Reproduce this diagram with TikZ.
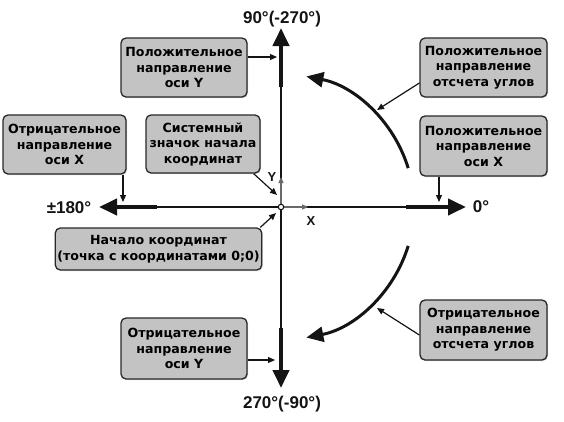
\documentclass[tikz,border=0pt]{standalone}
\usepackage{fontspec}
\setmainfont{DejaVu Sans}
\newfontfamily\labfont{Liberation Sans}
\usetikzlibrary{arrows.meta,shadows}
\definecolor{boxfill}{RGB}{195,195,195}
\definecolor{boxline}{RGB}{40,40,40}
\definecolor{axisc}{RGB}{20,20,20}
\definecolor{smallc}{RGB}{105,105,105}
\tikzset{
  infobox/.style={draw=boxline, line width=1.3pt, fill=boxfill, rounded corners=5pt,
    align=center, inner sep=2pt, font=\bfseries\fontsize{12.6}{15.5}\selectfont,
    drop shadow={opacity=0.35, shadow xshift=1pt, shadow yshift=-1pt}},
  conn/.style={draw=axisc, line width=1.2pt, -{Triangle[length=7pt,width=6pt]}},
  axthin/.style={draw=axisc, line width=1.6pt},
  axthick/.style={draw=axisc, line width=4pt, -{Triangle[length=18pt,width=16pt]}},
  arcline/.style={draw=axisc, line width=3pt, -{Triangle[length=17pt,width=15pt]}},
  smallarr/.style={draw=smallc, line width=1.1pt, -{Triangle[length=6pt,width=5pt]}},
  biglabel/.style={font=\labfont\bfseries\fontsize{17}{20}\selectfont, text=axisc},
  smalllabel/.style={font=\labfont\bfseries\fontsize{13}{15}\selectfont, text=axisc},
}
\begin{document}
\begin{tikzpicture}[x=1pt,y=1pt]
\useasboundingbox (0,0) rectangle (564,-421);
% key coordinates
\coordinate (O) at (281,-207);
\coordinate (tipT) at (281,-28);
\coordinate (tipB) at (281,-388);
\coordinate (tipL) at (99,-207);
\coordinate (tipR) at (466,-207);
\coordinate (thT) at (281,-87);
\coordinate (thB) at (281,-328);
\coordinate (thL) at (157,-207);
\coordinate (thR) at (406,-207);
\coordinate (sY) at (281,-177);
\coordinate (sX) at (308,-207);
% axes
\draw[axthin] (thL) -- (thR);
\draw[axthin] (thT) -- (thB);
\draw[axthick] (thT) -- (tipT);
\draw[axthick] (thB) -- (tipB);
\draw[axthick] (thL) -- (tipL);
\draw[axthick] (thR) -- (tipR);
% small system icon
\draw[smallarr] (O) -- (sY);
\draw[smallarr] (O) -- (sX);
\node[smalllabel] (lY) at (272,-177) {Y};
\node[smalllabel] (lX) at (311,-221) {X};
\node[circle, draw=axisc, fill=white, line width=1.1pt, minimum size=5.5pt, inner sep=0pt] (Oc) at (O) {};
% arcs
\draw[arcline] (O) ++(17:133) arc[start angle=17, end angle=79, radius=133];
\draw[arcline] (O) ++(-17:133) arc[start angle=-17, end angle=-79, radius=133];
% axis labels
\node[biglabel] (l90) at (282,-19) {90°(-270°)};
\node[biglabel] (l270) at (282,-404) {270°(-90°)};
\node[biglabel] (l180) at (69,-208) {±180°};
\node[biglabel] (l0) at (481,-207) {0°};
% boxes
\node[infobox, minimum width=126pt, minimum height=59pt] (b1) at (184,-67.5) {Положительное\\направление\\оси Y};
\node[infobox, minimum width=127pt, minimum height=59pt] (b2) at (483.5,-67.5) {Положительное\\направление\\отсчета углов};
\node[infobox, minimum width=123pt, minimum height=59pt] (b3) at (64.5,-144.5) {Отрицательное\\направление\\оси X};
\node[infobox, minimum width=114pt, minimum height=58pt] (b4) at (203,-144) {Системный\\значок начала\\координат};
\node[infobox, minimum width=127pt, minimum height=60pt] (b5) at (483.5,-146) {Положительное\\направление\\оси X};
\node[infobox, minimum width=201pt, minimum height=42pt] (b6) at (158.5,-249) {Начало координат\\(точка с координатами 0;0)};
\node[infobox, minimum width=126pt, minimum height=61pt] (b7) at (184,-348.5) {Отрицательное\\направление\\оси Y};
\node[infobox, minimum width=127pt, minimum height=60pt] (b8) at (483.5,-330) {Отрицательное\\направление\\отсчета углов};
% connector targets
\coordinate (t1) at (277,-57);
\coordinate (t2) at (377,-110);
\coordinate (t3) at (123,-202);
\coordinate (t4) at (277,-195);
\coordinate (t5) at (439,-202);
\coordinate (t6) at (276,-213);
\coordinate (t7) at (275,-360);
\coordinate (t8) at (377,-308);
% connectors
\draw[conn] (b1.east |- t1) -- (t1);
\draw[conn] ([yshift=-15.5pt]b2.west) -- (t2);
\draw[conn] (t3 |- b3.south) -- (t3);
\draw[conn] ([xshift=-7pt]b4.south east) -- (t4);
\draw[conn] (t5 |- b5.south) -- (t5);
\draw[conn] ([xshift=-2pt]b6.north east) -- (t6);
\draw[conn] (b7.east |- t7) -- (t7);
\draw[conn] ([yshift=-5pt]b8.west) -- (t8);
\end{tikzpicture}
\end{document}
